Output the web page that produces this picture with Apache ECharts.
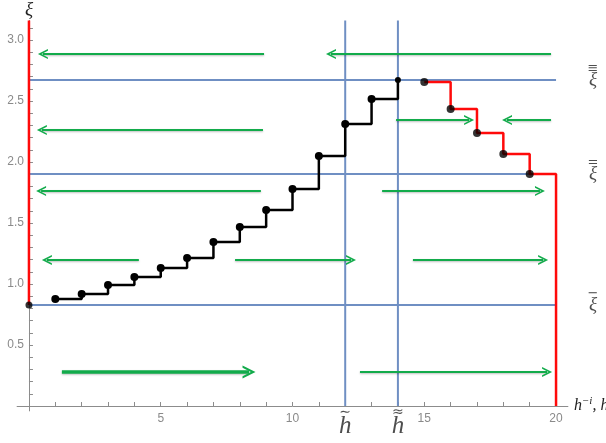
<!DOCTYPE html>
<html>
<head>
<meta charset="utf-8">
<script src="https://cdn.jsdelivr.net/npm/echarts@6/dist/echarts.min.js"></script>
<style>
  html, body { margin: 0; padding: 0; background: #fff; }
  #chart { width: 606px; height: 443px; }
</style>
</head>
<body>
<div id="chart"></div>
<script>
// Equilibrium levels ξ̄, ξ̿ and the triple-barred level
const xiLevels = [0.828, 1.902, 2.672];
const xiLevelBars = ['−', '=', '≡'];
// Threshold positions h̃ and h̃̃ on the horizontal axis
const hMarks = [12, 14];
const hMarkTildes = ['∼', '≈'];

// Rising staircase (black)
const stairX = [1, 2, 3, 4, 5, 6, 7, 8, 9, 10, 11, 12, 13, 14];
const stairXi = [0.877, 0.918, 0.992, 1.057, 1.131, 1.213, 1.344, 1.467, 1.607, 1.779, 2.049, 2.311, 2.516, 2.672];

// Falling staircase (red)
const fallX = [15, 16, 17, 18, 19];
const fallXi = [2.656, 2.434, 2.238, 2.066, 1.902];

// Direction arrows: level, start and end on the h axis
const arrowY = [2.885, 2.885, 2.262, 2.344, 2.344, 1.762, 1.762, 1.197, 1.197, 1.197, 0.279, 0.279];
const arrowStart = [8.92, 19.81, 8.88, 13.93, 19.81, 8.80, 13.40, 4.17, 7.82, 14.57, 1.25, 12.56];
const arrowEnd = [0.53, 11.46, 0.49, 16.70, 18.14, 0.46, 19.39, 0.68, 12.22, 19.51, 8.35, 19.66];
const thickArrow = 10;

// Axis ticks and labels
const xTicks = [0, 1, 2, 3, 4, 5, 6, 7, 8, 9, 10, 11, 12, 13, 14, 15, 16, 17, 18, 19, 20];
const xLabels = [5, 10, 15, 20];
const yTicks = [0.1, 0.2, 0.3, 0.4, 0.5, 0.6, 0.7, 0.8, 0.9, 1.0, 1.1, 1.2, 1.3, 1.4, 1.5, 1.6, 1.7, 1.8, 1.9, 2.0, 2.1, 2.2, 2.3, 2.4, 2.5, 2.6, 2.7, 2.8, 2.9, 3.0, 3.1];
const yLabels = [0.5, 1.0, 1.5, 2.0, 2.5, 3.0];

const X_MIN = -0.45, X_MAX = 20.45, Y_MIN = -0.04, Y_MAX = 3.16, X_END = 20;

// Plot box in pixels; the axes cross at the origin, slightly inside the box
const GRID = { left: 17.1, right: 38.1, top: 20.5, bottom: 32.1 };
const plotW = 606 - GRID.left - GRID.right;
const plotH = 443 - GRID.top - GRID.bottom;
const yAxisShift = -(0 - X_MIN) / (X_MAX - X_MIN) * plotW;
const xAxisShift = -(0 - Y_MIN) / (Y_MAX - Y_MIN) * plotH;

const BLUE = '#6f8fc3';
const RED = '#ff0a0a';
const GREEN = '#12ab4b';
const AXIS = '#8c8c8c';
const MATH = 'Liberation Serif';
const CHEVRON = 'path://M0,10 L6,0 L12,10 L10,10 L6,3.6 L2,10 Z';

const chart = echarts.init(document.getElementById('chart'), null, { renderer: 'canvas' });

const series = [];

// Equilibrium levels
xiLevels.forEach(v => {
  series.push({
    type: 'line', silent: true, symbol: 'none', z: 2,
    lineStyle: { color: BLUE, width: 2 },
    data: [[0, v], [X_END, v]]
  });
});
// Labels of the equilibrium levels
series.push({
  type: 'scatter', silent: true, z: 5, symbolSize: 1,
  itemStyle: { color: 'rgba(0,0,0,0)' },
  data: xiLevels.map((v, i) => ({
    value: [X_END, v],
    label: {
      show: true, position: 'right', distance: 31, offset: [0, -3],
      formatter: '{b|' + xiLevelBars[i] + '}\n{x|ξ}',
      rich: {
        b: { fontFamily: 'DejaVu Sans', fontSize: 13, lineHeight: 6, color: '#222', align: 'center' },
        x: { fontFamily: MATH, fontStyle: 'italic', fontSize: 19, lineHeight: 17, color: '#222', align: 'center' }
      }
    }
  }))
});

// Threshold verticals
hMarks.forEach(h => {
  series.push({
    type: 'line', silent: true, symbol: 'none', z: 2,
    lineStyle: { color: BLUE, width: 2 },
    data: [[h, 0], [h, Y_MAX]]
  });
});
series.push({
  type: 'scatter', silent: true, z: 5, symbolSize: 1,
  itemStyle: { color: 'rgba(0,0,0,0)' },
  data: hMarks.map((h, i) => ({
    value: [h, 0],
    label: {
      show: true, position: 'bottom', distance: 2,
      formatter: '{t|' + hMarkTildes[i] + '}\n{h|h}',
      rich: {
        t: { fontFamily: 'DejaVu Sans', fontSize: 14, lineHeight: 7, color: '#222', align: 'center' },
        h: { fontFamily: MATH, fontStyle: 'italic', fontSize: 25, lineHeight: 22, color: '#222', align: 'center' }
      }
    }
  }))
});

// Direction arrows
series.push({
  type: 'lines', coordinateSystem: 'cartesian2d', silent: true, z: 3,
  symbol: ['none', CHEVRON], symbolSize: 10,
  lineStyle: { color: GREEN, width: 2, opacity: 1, shadowColor: 'rgba(0,0,0,0.25)', shadowBlur: 2, shadowOffsetY: 1 },
  data: arrowY.map((y, i) => ({
    coords: [[arrowStart[i], y], [arrowEnd[i], y]],
    symbolSize: i === thickArrow ? 13 : 10,
    lineStyle: { width: i === thickArrow ? 3.5 : 2 }
  }))
});

// Red boundary on the left axis
series.push({
  type: 'line', silent: true, symbol: 'none', z: 4,
  lineStyle: { color: RED, width: 2.5 },
  data: [[0, xiLevels[0]], [0, Y_MAX]]
});

// Falling staircase down to the right boundary
series.push({
  type: 'line', silent: true, symbol: 'none', z: 4, step: 'end',
  lineStyle: { color: RED, width: 2.5 },
  data: fallX.map((x, i) => [x, fallXi[i]]).concat([[X_END, fallXi[fallXi.length - 1]], [X_END, 0]])
});

// Rising staircase
series.push({
  type: 'line', silent: true, z: 6, step: 'end',
  symbol: 'circle', showAllSymbol: true,
  symbolSize: (val, p) => (p.dataIndex === stairX.length - 1 ? 6 : 8),
  itemStyle: { color: '#000' },
  lineStyle: { color: '#000', width: 2.5 },
  data: stairX.map((x, i) => [x, stairXi[i]])
});

// Points on the falling staircase and at the origin level
series.push({
  type: 'scatter', silent: true, z: 7, symbolSize: 8,
  itemStyle: { color: '#000' },
  data: fallX.map((x, i) => [x, fallXi[i]]).concat([{ value: [0, xiLevels[0]], symbolSize: 7 }])
});

chart.setOption({
  animation: false,
  backgroundColor: '#fff',
  grid: Object.assign({ containLabel: false, outerBoundsMode: 'none' }, GRID),
  xAxis: {
    type: 'value', min: X_MIN, max: X_MAX, offset: xAxisShift,
    name: '{i|h}{s|−i}{i|, h}', nameLocation: 'end', nameGap: 6,
    nameTextStyle: {
      rich: {
        i: { fontFamily: MATH, fontStyle: 'italic', fontSize: 16, color: '#222' },
        s: { fontFamily: MATH, fontStyle: 'italic', fontSize: 11, color: '#222', padding: [0, 0, 9, 0] }
      }
    },
    axisLine: { show: true, onZero: false, lineStyle: { color: AXIS, width: 1 } },
    axisTick: { show: true, inside: true, length: 4, customValues: xTicks, lineStyle: { color: AXIS } },
    axisLabel: { customValues: xLabels, color: '#8a8a8a', fontFamily: 'Liberation Sans', fontSize: 12, margin: 7 },
    splitLine: { show: false }
  },
  yAxis: {
    type: 'value', min: Y_MIN, max: Y_MAX, offset: yAxisShift,
    name: 'ξ', nameLocation: 'end', nameGap: 1,
    nameTextStyle: { fontFamily: MATH, fontStyle: 'italic', fontSize: 19, color: '#222' },
    axisLine: { show: true, onZero: false, lineStyle: { color: AXIS, width: 1 } },
    axisTick: { show: true, inside: true, length: 4, customValues: yTicks, lineStyle: { color: AXIS } },
    axisLabel: {
      customValues: yLabels, color: '#8a8a8a', fontFamily: 'Liberation Sans', fontSize: 12, margin: 5,
      formatter: v => v.toFixed(1)
    },
    splitLine: { show: false }
  },
  series: series
});
</script>
</body>
</html>
